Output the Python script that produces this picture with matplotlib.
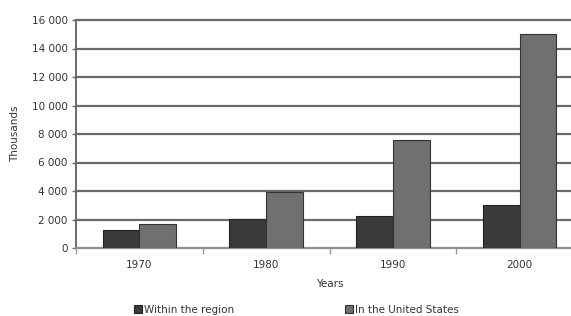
import numpy as np
import matplotlib.pyplot as plt
from matplotlib.ticker import FuncFormatter, FixedLocator

years = ["1970", "1980", "1990", "2000"]
within_region = [1270, 2030, 2280, 3040]
in_us = [1650, 3950, 7580, 15050]

dark = "#3b3b3b"
mid = "#707070"
grid = "#6a6a6a"

fig = plt.figure(figsize=(5.71, 3.16), dpi=100)
ax = fig.add_axes([76 / 571, 1 - 248 / 316, (583 - 76) / 571, (248 - 20) / 316])

x = np.arange(len(years))
w = 0.29
ax.bar(x - w / 2, within_region, w, color=dark, edgecolor="#222222", linewidth=0.8,
       label="Within the region", zorder=3)
ax.bar(x + w / 2, in_us, w, color=mid, edgecolor="#333333", linewidth=0.8,
       label="In the United States", zorder=3)

ax.set_xlim(-0.5, len(years) - 0.5)
ax.set_ylim(0, 16000)
ax.set_yticks(np.arange(0, 16001, 2000))
ax.yaxis.set_major_formatter(FuncFormatter(lambda v, p: f"{int(v):,}".replace(",", " ")))
ax.yaxis.grid(True, color=grid, linewidth=1.6, zorder=0)
for gl in ax.get_ygridlines():
    gl.set_clip_on(False)

# category labels without ticks, ticks at category boundaries
ax.set_xticks(x)
ax.set_xticklabels(years)
ax.tick_params(axis="x", length=0, pad=9, labelsize=7.5, labelcolor="#333333")
ax.xaxis.set_minor_locator(FixedLocator(np.arange(-0.5, len(years), 1.0)))
ax.tick_params(axis="x", which="minor", length=4, color="#999999", width=1)
ax.tick_params(axis="y", length=3, color=grid, width=1, labelsize=7.5, labelcolor="#333333", pad=3)

for s in ["top", "right"]:
    ax.spines[s].set_visible(False)
ax.spines["left"].set_color(grid)
ax.spines["left"].set_linewidth(1.4)
ax.spines["bottom"].set_color("#999999")
ax.spines["bottom"].set_linewidth(1.2)

ax.set_ylabel("Thousands", fontsize=7.5, color="#333333", labelpad=8)
ax.set_xlabel("Years", fontsize=7.5, color="#333333", labelpad=6)

fig.legend(loc="lower left", bbox_to_anchor=(125 / 571, -0.025), ncol=2, frameon=False,
           fontsize=7.5, handlelength=0.7, handleheight=0.7, handletextpad=0.2,
           columnspacing=10.7, labelcolor="#333333")

fig.savefig("out.png", dpi=100)
